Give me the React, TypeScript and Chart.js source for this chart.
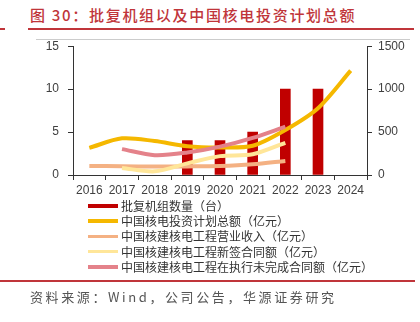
import React, { useEffect, useRef } from "react";
import { Chart, registerables } from "chart.js";

Chart.register(...registerables);

const years = ["2016", "2017", "2018", "2019", "2020", "2021", "2022", "2023", "2024"];
const approvedUnits = [null, null, null, 4, 4, 5, 10, 10, null];
const investmentPlan = [316, 427, 395, 335, 320, 340, 524, 778, 1215];
const engRevenue = [105, 102, 98, 100, 105, 125, 164, null, null];
const newContracts = [null, 82, 43, 135, 220, 242, 375, null, null];
const backlogContracts = [null, 301, 231, 262, 330, 432, 563, null, null];

const leftTicks = [0, 5, 10, 15];
const rightTicks = [0, 500, 1000, 1500];

const seriesNames = [
  "批复机组数量（台）",
  "中国核电投资计划总额（亿元）",
  "中国核建核电工程营业收入（亿元）",
  "中国核建核电工程新签合同额（亿元）",
  "中国核建核电工程在执行未完成合同额（亿元）",
];
const seriesColors = ["#C00000", "#F5B800", "#F4B183", "#FFE699", "#E4828A"];

const RED = "#C0353A";
const AXIS = "#333333";
const TICK_FONT = { family: "'Liberation Sans', Arial, sans-serif", size: 12 };

export default function App() {
  const ref = useRef<HTMLCanvasElement | null>(null);

  useEffect(() => {
    if (!ref.current) return;
    const lineDs = (i: number, data: (number | null)[]) => ({
      type: "line" as const,
      label: seriesNames[i],
      data,
      yAxisID: "y1",
      borderColor: seriesColors[i],
      backgroundColor: seriesColors[i],
      borderWidth: 4,
      pointRadius: 0,
      tension: 0.3,
      spanGaps: false,
      order: 1,
    });
    const chart = new Chart(ref.current, {
      type: "bar",
      data: {
        labels: years,
        datasets: [
          {
            type: "bar",
            label: seriesNames[0],
            data: approvedUnits,
            yAxisID: "y",
            backgroundColor: seriesColors[0],
            barThickness: 10,
            order: 10,
          },
          lineDs(4, backlogContracts),
          lineDs(3, newContracts),
          lineDs(2, engRevenue),
          lineDs(1, investmentPlan),
        ] as any,
      },
      options: {
        animation: false,
        responsive: false,
        maintainAspectRatio: false,
        layout: { padding: { top: 5, bottom: 0, left: 0, right: 0 } },
        plugins: { legend: { display: false }, tooltip: { enabled: false } },
        scales: {
          x: {
            type: "category",
            offset: true,
            grid: {
              offset: true,
              drawOnChartArea: false,
              drawTicks: true,
              tickLength: 5,
              color: AXIS,
            },
            border: { display: true, color: AXIS, width: 1 },
            ticks: { color: "#404040", font: TICK_FONT, padding: 3, maxRotation: 0, autoSkip: false },
            afterFit: (s: any) => {
              s.height = 25;
            },
          },
          y: {
            position: "left",
            min: 0,
            max: 15,
            afterBuildTicks: (s: any) => {
              s.ticks = leftTicks.map((v) => ({ value: v }));
            },
            grid: { drawOnChartArea: false, drawTicks: true, tickLength: 5, color: AXIS },
            border: { display: true, color: AXIS, width: 1 },
            ticks: { color: "#404040", font: TICK_FONT, padding: 9, callback: (v: any) => String(v) },
            afterFit: (s: any) => {
              s.width = 73;
            },
          },
          y1: {
            position: "right",
            min: 0,
            max: 1500,
            afterBuildTicks: (s: any) => {
              s.ticks = rightTicks.map((v) => ({ value: v }));
            },
            grid: { drawOnChartArea: false, drawTicks: true, tickLength: 5, color: AXIS },
            border: { display: true, color: AXIS, width: 1 },
            ticks: { color: "#404040", font: TICK_FONT, padding: 6, callback: (v: any) => String(v) },
            afterFit: (s: any) => {
              s.width = 53;
            },
          },
        },
      } as any,
    });
    return () => chart.destroy();
  }, []);

  const cjk = "'Noto Sans CJK SC', 'Noto Sans', sans-serif";

  return (
    <div
      style={{
        position: "absolute",
        left: 0,
        top: 0,
        width: 420,
        height: 322,
        background: "#fff",
        overflow: "hidden",
        fontFamily: cjk,
      }}
    >
      <div
        style={{
          position: "absolute",
          left: 30,
          top: 5,
          height: 20,
          lineHeight: "20px",
          fontSize: 15,
          fontWeight: 500,
          letterSpacing: 1.7,
          color: RED,
          whiteSpace: "nowrap",
        }}
      >
        图 30：批复机组以及中国核电投资计划总额
      </div>
      <div style={{ position: "absolute", left: 0, top: 28, width: 5, height: 2, background: RED }} />
      <div style={{ position: "absolute", left: 28, top: 28, width: 386, height: 2, background: RED }} />
      <div style={{ position: "absolute", left: 36, top: 39, width: 374, height: 1, background: "#cccccc" }} />
      <canvas
        ref={ref}
        width={420}
        height={170}
        style={{ position: "absolute", left: 0, top: 30, width: 420, height: 170 }}
      />
      {seriesNames.map((name, i) => (
        <div
          key={name}
          style={{
            position: "absolute",
            left: 88,
            top: 198 + i * 15.2,
            height: 16,
            display: "flex",
            alignItems: "center",
            whiteSpace: "nowrap",
          }}
        >
          <div
            style={{
              width: 30,
              height: i === 0 ? 4 : 3.5,
              background: seriesColors[i],
              marginRight: 3,
            }}
          />
          <span style={{ fontSize: 12, color: "#333", lineHeight: "16px" }}>{name}</span>
        </div>
      ))}
      <div style={{ position: "absolute", left: 0, top: 280, width: 415, height: 2, background: RED }} />
      <div
        style={{
          position: "absolute",
          left: 30,
          top: 288,
          height: 18,
          lineHeight: "18px",
          fontSize: 13,
          letterSpacing: 2.6,
          color: "#555",
          whiteSpace: "nowrap",
        }}
      >
        资料来源：Wind，公司公告，华源证券研究
      </div>
    </div>
  );
}
